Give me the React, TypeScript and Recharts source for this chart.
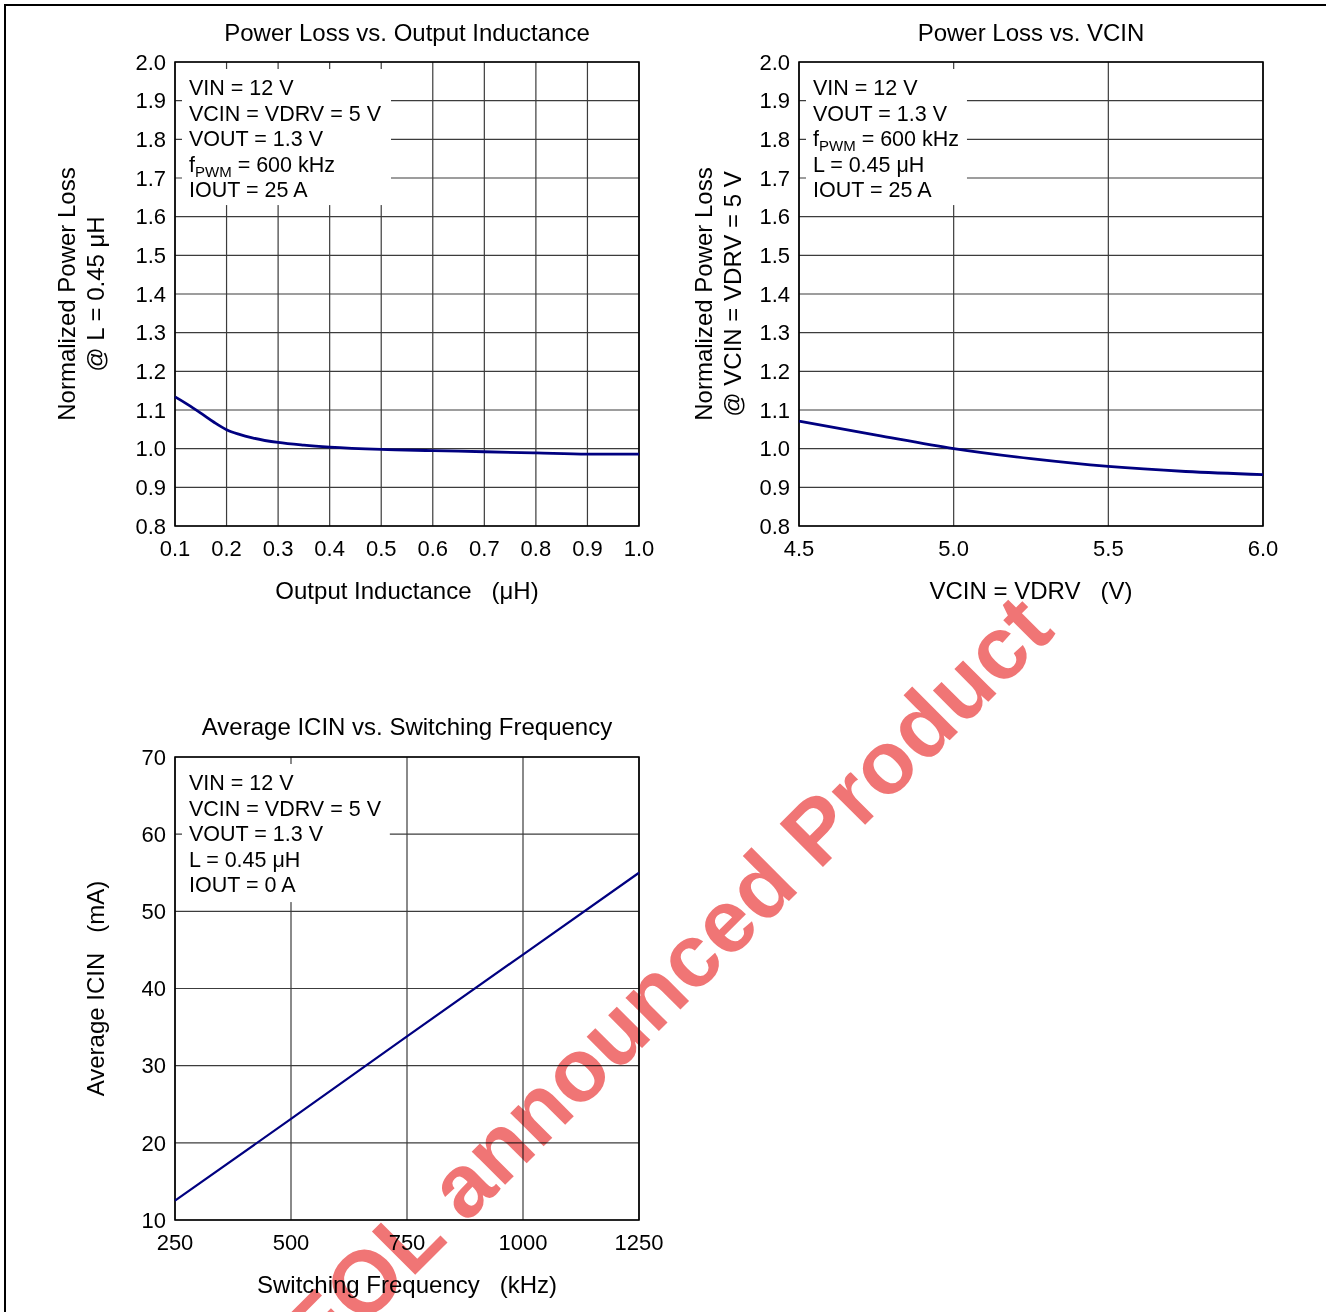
import React from 'react';
import { LineChart, Line, XAxis, YAxis, CartesianGrid, ReferenceArea } from 'recharts';

const FONT = '"Liberation Sans", Arial, Helvetica, sans-serif';
const NAVY = '#000080';
const GRID = '#3c3c3c';

// Power loss vs. output inductance
const inductanceUH = [0.1, 0.125, 0.15, 0.175, 0.2, 0.225, 0.25, 0.3, 0.35, 0.4, 0.5, 0.6, 0.7, 0.8, 0.9, 1.0];
const lossVsL = [1.134, 1.114, 1.092, 1.069, 1.049, 1.037, 1.028, 1.016, 1.009, 1.004, 0.998, 0.995, 0.992, 0.989, 0.986, 0.986];

// Power loss vs. VCIN
const vcinV = [4.5, 4.75, 5.0, 5.25, 5.5, 5.75, 6.0];
const lossVsVcin = [1.071, 1.035, 1.0, 0.974, 0.954, 0.941, 0.933];

// Average ICIN vs. switching frequency
const fswKHz = [250, 500, 750, 1000, 1250];
const icinMA = [12.5, 23.1, 33.8, 44.4, 55.0];

const lossTicks = [0.8, 0.9, 1.0, 1.1, 1.2, 1.3, 1.4, 1.5, 1.6, 1.7, 1.8, 1.9, 2.0];
const inductanceTicks = [0.1, 0.2, 0.3, 0.4, 0.5, 0.6, 0.7, 0.8, 0.9, 1.0];
const vcinTicks = [4.5, 5.0, 5.5, 6.0];
const fswTicks = [250, 500, 750, 1000, 1250];
const icinTicks = [10, 20, 30, 40, 50, 60, 70];

type NoteLine = string | [string, string, string];

const notesL: NoteLine[] = ['VIN = 12 V', 'VCIN = VDRV = 5 V', 'VOUT = 1.3 V', ['f', 'PWM', '\u00a0= 600 kHz'], 'IOUT = 25 A'];
const notesVcin: NoteLine[] = ['VIN = 12 V', 'VOUT = 1.3 V', ['f', 'PWM', '\u00a0= 600 kHz'], 'L = 0.45 \u03bcH', 'IOUT = 25 A'];
const notesFsw: NoteLine[] = ['VIN = 12 V', 'VCIN = VDRV = 5 V', 'VOUT = 1.3 V', 'L = 0.45 \u03bcH', 'IOUT = 0 A'];

const SP = '\u00a0\u00a0\u00a0';

function NoteBox(props: any) {
  const { x, y, width, height, lines } = props;
  return (
    <g>
      <rect x={x + 7} y={y + 7} width={width - 7} height={height - 7} fill="#fff" />
      {lines.map((ln: NoteLine, i: number) => (
        <text key={i} x={x + 14} y={y + 33 + i * 25.5} fontSize={21.5} fontFamily={FONT} fill="#000">
          {typeof ln === 'string' ? (
            ln
          ) : (
            <>
              {ln[0]}
              <tspan fontSize={15} dy={5}>{ln[1]}</tspan>
              <tspan dy={-5}>{ln[2]}</tspan>
            </>
          )}
        </text>
      ))}
    </g>
  );
}

interface PanelProps {
  left: number;
  top: number;
  width: number;
  height: number;
  margin: { top: number; right: number; bottom: number; left: number };
  xs: number[];
  ys: number[];
  xDomain: [number, number];
  xTicks: number[];
  yDomain: [number, number];
  yTicks: number[];
  xDigits: number;
  yDigits: number;
  xTitle: string;
  yTitles: string[];
  yTitleX: number[];
  notes: NoteLine[];
  box: { x2: number; y1: number };
  curve: 'monotone' | 'linear';
  lineWidth: number;
}

function Panel(p: PanelProps) {
  const data = p.xs.map((x, i) => ({ x, y: p.ys[i] }));
  const plotLeft = p.margin.left + 60;
  const plotRight = p.width - p.margin.right;
  const plotTop = p.margin.top;
  const plotBottom = p.height - p.margin.bottom - 40;
  const cx = (plotLeft + plotRight) / 2;
  const cy = (plotTop + plotBottom) / 2;

  const xTitle = () => (
    <text x={cx} y={plotBottom + 64} textAnchor="middle" dominantBaseline="central" fontSize={24} fontFamily={FONT} fill="#000">
      {p.xTitle}
    </text>
  );
  const yTitle = () => (
    <g>
      {p.yTitles.map((t, i) => (
        <text
          key={i}
          x={p.yTitleX[i]}
          y={cy}
          transform={`rotate(-90 ${p.yTitleX[i]} ${cy})`}
          textAnchor="middle"
          dominantBaseline="central"
          fontSize={24}
          fontFamily={FONT}
          fill="#000"
        >
          {t}
        </text>
      ))}
    </g>
  );

  return (
    <div style={{ position: 'absolute', left: p.left, top: p.top }}>
      <LineChart width={p.width} height={p.height} data={data} margin={p.margin}>
        <CartesianGrid stroke={GRID} strokeWidth={1.2} />
        <XAxis
          dataKey="x"
          type="number"
          domain={p.xDomain}
          ticks={p.xTicks}
          interval={0}
          height={40}
          axisLine={false}
          tickLine={false}
          tickSize={0}
          tickMargin={14}
          tickFormatter={(v: number) => v.toFixed(p.xDigits)}
          tick={{ fill: '#000', fontSize: 22, fontFamily: FONT }}
          label={xTitle}
        />
        <YAxis
          type="number"
          domain={p.yDomain}
          ticks={p.yTicks}
          interval={0}
          width={60}
          axisLine={false}
          tickLine={false}
          tickSize={0}
          tickMargin={9}
          tickFormatter={(v: number) => v.toFixed(p.yDigits)}
          tick={{ fill: '#000', fontSize: 22, fontFamily: FONT }}
          label={yTitle}
        />
        <ReferenceArea
          x1={p.xDomain[0]}
          x2={p.box.x2}
          y1={p.box.y1}
          y2={p.yDomain[1]}
          shape={(sp: any) => <NoteBox {...sp} lines={p.notes} />}
        />
        <ReferenceArea
          x1={p.xDomain[0]}
          x2={p.xDomain[1]}
          y1={p.yDomain[0]}
          y2={p.yDomain[1]}
          fill="none"
          fillOpacity={0}
          stroke="#000"
          strokeWidth={1.6}
        />
        <Line
          type={p.curve}
          dataKey="y"
          stroke={NAVY}
          strokeWidth={p.lineWidth}
          dot={false}
          activeDot={false}
          isAnimationActive={false}
        />
      </LineChart>
    </div>
  );
}

function Title({ text, x, y }: { text: string; x: number; y: number }) {
  return (
    <div
      style={{
        position: 'absolute',
        left: x - 300,
        top: y - 14,
        width: 600,
        lineHeight: '28px',
        textAlign: 'center',
        fontFamily: FONT,
        fontSize: 24,
        color: '#000',
      }}
    >
      {text}
    </div>
  );
}

export default function App() {
  return (
    <div
      style={{
        position: 'absolute',
        left: 0,
        top: 0,
        width: 1326,
        height: 1312,
        background: '#fff',
        overflow: 'hidden',
        fontFamily: FONT,
      }}
    >
      <div style={{ position: 'absolute', left: 4, top: 4, right: -4, bottom: -4, borderTop: '2px solid #000', borderLeft: '2px solid #000' }} />

      <Title text="Power Loss vs. Output Inductance" x={407} y={33} />
      <Title text="Power Loss vs. VCIN" x={1031} y={33} />
      <Title text="Average ICIN vs. Switching Frequency" x={407} y={727} />

      <Panel
        left={0}
        top={0}
        width={660}
        height={620}
        margin={{ top: 62, right: 21, bottom: 54, left: 115 }}
        xs={inductanceUH}
        ys={lossVsL}
        xDomain={[0.1, 1.0]}
        xTicks={inductanceTicks}
        yDomain={[0.8, 2.0]}
        yTicks={lossTicks}
        xDigits={1}
        yDigits={1}
        xTitle={`Output Inductance${SP}(\u03bcH)`}
        yTitles={['Normalized Power Loss', '@ L = 0.45 \u03bcH']}
        yTitleX={[66, 95]}
        notes={notesL}
        box={{ x2: 0.519, y1: 1.63 }}
        curve="monotone"
        lineWidth={2.8}
      />

      <Panel
        left={640}
        top={0}
        width={660}
        height={620}
        margin={{ top: 62, right: 37, bottom: 54, left: 99 }}
        xs={vcinV}
        ys={lossVsVcin}
        xDomain={[4.5, 6.0]}
        xTicks={vcinTicks}
        yDomain={[0.8, 2.0]}
        yTicks={lossTicks}
        xDigits={1}
        yDigits={1}
        xTitle={`VCIN = VDRV${SP}(V)`}
        yTitles={['Normalized Power Loss', '@ VCIN = VDRV = 5 V']}
        yTitleX={[63, 92]}
        notes={notesVcin}
        box={{ x2: 5.043, y1: 1.63 }}
        curve="monotone"
        lineWidth={2.8}
      />

      <Panel
        left={0}
        top={695}
        width={680}
        height={617}
        margin={{ top: 62, right: 41, bottom: 52, left: 115 }}
        xs={fswKHz}
        ys={icinMA}
        xDomain={[250, 1250]}
        xTicks={fswTicks}
        yDomain={[10, 70]}
        yTicks={icinTicks}
        xDigits={0}
        yDigits={0}
        xTitle={`Switching Frequency${SP}(kHz)`}
        yTitles={[`Average ICIN${SP}(mA)`]}
        yTitleX={[95]}
        notes={notesFsw}
        box={{ x2: 713, y1: 51.2 }}
        curve="linear"
        lineWidth={2.2}
      />

      <svg
        width={1326}
        height={1312}
        style={{ position: 'absolute', left: 0, top: 0, pointerEvents: 'none', mixBlendMode: 'multiply' }}
      >
        <text
          x={320}
          y={1370}
          transform="rotate(-45 320 1370)"
          fontSize={89}
          fontWeight="bold"
          fontFamily={FONT}
          fill="#f07575"
        >
          EOL announced Product
        </text>
      </svg>
    </div>
  );
}
